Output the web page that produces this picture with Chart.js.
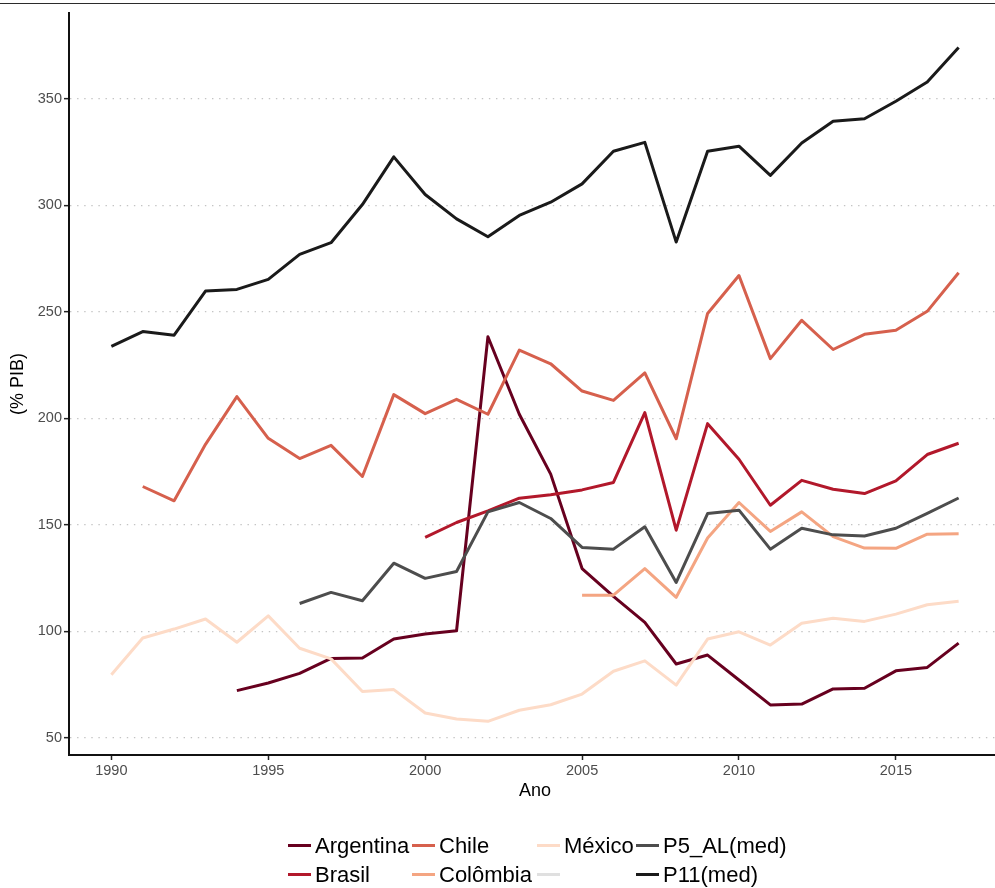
<!DOCTYPE html>
<html>
<head>
<meta charset="utf-8">
<script src="https://cdn.jsdelivr.net/npm/chart.js@4.4.1/dist/chart.umd.min.js"></script>
<style>
  html, body { margin: 0; padding: 0; background: #fff; overflow: hidden; }
  #wrap { position: relative; width: 995px; height: 888px; overflow: hidden; }
  #topline { position: absolute; left: 0; top: 3px; width: 995px; height: 1px; background: #2b2b2b; }
  #myChart { position: absolute; left: 0; top: 0; }
  #legenda {
    position: absolute; left: 288px; top: 831px;
    display: grid; grid-auto-flow: column; grid-template-rows: 29px 29px;
    grid-template-columns: 124px 125px 99px auto;
    font-family: "Liberation Sans", Arial, sans-serif; font-size: 22px; color: #000;
  }
  .item { display: flex; align-items: center; white-space: nowrap; }
  .chave { width: 23px; height: 3px; margin-right: 4px; }
</style>
</head>
<body>
<div id="wrap">
  <div id="topline"></div>
  <canvas id="myChart" width="1008" height="888"></canvas>
  <div id="legenda"></div>
</div>
<script>
// anos e series (% PIB)
var anos = [1990, 1991, 1992, 1993, 1994, 1995, 1996, 1997, 1998, 1999,
            2000, 2001, 2002, 2003, 2004, 2005, 2006, 2007, 2008, 2009,
            2010, 2011, 2012, 2013, 2014, 2015, 2016, 2017];

var argentina = [null, null, null, null, 72.2, 75.8, 80.3, 87.3, 87.5, 96.4,
                 98.8, 100.3, 238.3, 201.9, 173.8, 129.5, 116.4, 104.2, 84.7, 88.9,
                 77.2, 65.5, 65.9, 73.0, 73.3, 81.5, 83.1, 94.5];
var brasil = [null, null, null, null, null, null, null, null, null, null,
              144.1, 151.1, 156.6, 162.5, 164.1, 166.4, 169.9, 202.7, 147.5, 197.5,
              180.8, 159.2, 170.9, 166.7, 164.7, 170.6, 183.0, 188.3];
var chile = [null, 168.0, 161.3, 187.8, 210.2, 190.6, 181.1, 187.3, 172.7, 211.1,
             202.2, 208.9, 201.9, 232.0, 225.6, 212.8, 208.4, 221.3, 190.4, 249.2,
             267.0, 228.0, 246.0, 232.3, 239.4, 241.3, 250.2, 268.3];
var colombia = [null, null, null, null, null, null, null, null, null, null,
                null, null, null, null, null, 117.0, 117.0, 129.5, 116.0, 143.8,
                160.5, 146.9, 156.1, 144.5, 139.1, 139.0, 145.6, 145.8];
var mexico = [79.7, 96.9, 101.1, 105.8, 94.9, 107.3, 92.1, 87.1, 71.8, 72.7,
              61.7, 58.9, 57.8, 63.0, 65.6, 70.6, 81.3, 86.2, 74.8, 96.4,
              99.8, 93.6, 103.8, 106.2, 104.7, 108.1, 112.5, 114.1];
var vazio = [];
var p5 = [null, null, null, null, null, null, 113.1, 118.3, 114.4, 132.0,
          124.9, 128.1, 156.1, 160.5, 153.0, 139.4, 138.6, 149.1, 123.0, 155.3,
          156.9, 138.6, 148.4, 145.3, 144.8, 148.4, 155.4, 162.6];
var p11 = [233.8, 240.7, 239.0, 259.7, 260.5, 265.2, 276.9, 282.4, 300.3, 322.7,
           305.0, 293.6, 285.2, 295.2, 301.4, 310.0, 325.3, 329.5, 282.7, 325.3,
           327.7, 314.0, 329.2, 339.4, 340.6, 348.8, 357.8, 374.0];

var nomes = ['Argentina', 'Brasil', 'Chile', 'Colômbia', 'México', '', 'P5_AL(med)', 'P11(med)'];
var series = [argentina, brasil, chile, colombia, mexico, vazio, p5, p11];
var cores = ['#67001f', '#b2182b', '#d6604d', '#f4a582', '#fddbc7', '#e0e0e0', '#4d4d4d', '#1a1a1a'];

var xTicks = [1990, 1995, 2000, 2005, 2010, 2015];
var yTicks = [50, 100, 150, 200, 250, 300, 350];

var fonte = '"Liberation Sans", Arial, sans-serif';

var datasets = series.map(function (s, i) {
  return {
    label: nomes[i],
    data: s.map(function (v, j) { return { x: anos[j], y: v }; }),
    borderColor: cores[i],
    backgroundColor: cores[i],
    borderWidth: 3,
    pointRadius: 0,
    tension: 0,
    borderJoinStyle: 'round',
    order: -i
  };
});

var ctx = document.getElementById('myChart').getContext('2d');
var chart = new Chart(ctx, {
  type: 'line',
  data: { datasets: datasets },
  options: {
    responsive: false,
    animation: false,
    layout: { padding: { left: 0, top: 13, right: 7, bottom: 88 } },
    plugins: { legend: { display: false }, tooltip: { enabled: false } },
    scales: {
      x: {
        type: 'linear',
        min: 1988.65,
        max: 2018.35,
        afterFit: function (s) { s.height = 45; },
        afterBuildTicks: function (s) { s.ticks = xTicks.map(function (v) { return { value: v }; }); },
        grid: { drawOnChartArea: false, tickLength: 5, tickColor: '#222', tickWidth: 1.5 },
        border: { color: '#111', width: 2 },
        ticks: {
          color: '#4d4d4d', padding: 2, maxRotation: 0,
          font: { family: fonte, size: 14.5 },
          callback: function (v) { return String(v); }
        },
        title: {
          display: true, text: 'Ano', color: '#000',
          font: { family: fonte, size: 18, lineHeight: 1 },
          padding: { top: 0, bottom: 0 }
        }
      },
      y: {
        min: 42,
        max: 390.2,
        afterFit: function (s) { s.width = 69; },
        afterBuildTicks: function (s) { s.ticks = yTicks.map(function (v) { return { value: v }; }); },
        grid: { color: '#c4c4c4', lineWidth: 1.3, tickLength: 5, tickColor: '#222', tickWidth: 1.5 },
        border: { color: '#111', width: 2, dash: [1.4, 5.7] },
        ticks: {
          color: '#4d4d4d', padding: 2,
          font: { family: fonte, size: 14.5 }
        },
        title: {
          display: true, text: '(% PIB)', color: '#000',
          font: { family: fonte, size: 18, lineHeight: 1 },
          padding: { top: 9, bottom: 0 }
        }
      }
    }
  }
});

// legenda em duas linhas, preenchida por colunas
var legenda = document.getElementById('legenda');
chart.data.datasets.forEach(function (d) {
  var item = document.createElement('div');
  item.className = 'item';
  var chave = document.createElement('span');
  chave.className = 'chave';
  chave.style.background = d.borderColor;
  var txt = document.createElement('span');
  txt.textContent = d.label;
  item.appendChild(chave);
  item.appendChild(txt);
  legenda.appendChild(item);
});
</script>
</body>
</html>
